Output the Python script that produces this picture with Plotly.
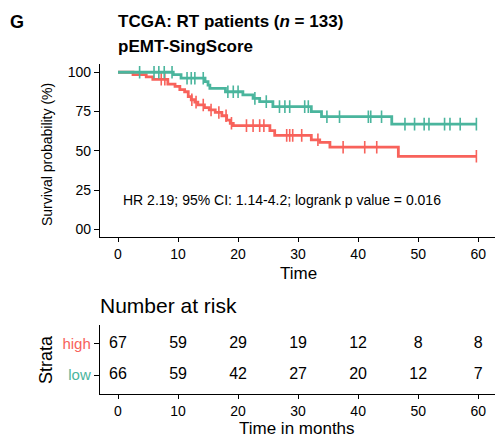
import numpy as np
import plotly.graph_objects as go

# ---------------- data ----------------
strata = ["high", "low"]
# Kaplan-Meier step points (time in months, survival %)
high_t = [0, 2.5, 4.7, 5.8, 8.3, 9.5, 10.3, 11.1, 11.7, 12.2, 12.8, 13.3, 14.4, 15.2, 16.2, 17.3, 18.1, 18.7, 19.2, 25.3, 26.1, 32.2, 33.6, 35.3, 46.7, 59.8]
high_s = [100, 98.5, 97.0, 95.5, 92.5, 91.0, 89.0, 87.6, 84.5, 82.5, 81.0, 79.2, 77.5, 76.0, 74.4, 72.3, 69.5, 67.5, 66.0, 62.8, 59.8, 57.0, 55.4, 52.3, 46.5, 46.5]
high_cens = [7.2, 7.8, 12.3, 13.0, 14.2, 15.5, 16.8, 18.0, 18.9, 21.4, 22.5, 23.6, 24.3, 28.1, 28.6, 29.1, 30.6, 33.3, 37.5, 41.1, 43.1, 59.7]

low_t = [0, 9.2, 10.5, 14.5, 15.0, 15.3, 17.9, 20.8, 22.5, 23.6, 25.8, 32.2, 33.9, 45.6, 59.8]
low_s = [100, 98.5, 96.2, 94.0, 91.8, 89.8, 87.6, 85.6, 83.4, 81.3, 78.1, 74.9, 71.7, 67.0, 67.0]
low_cens = [3.6, 6.0, 6.8, 7.7, 9.0, 11.5, 12.2, 12.8, 14.2, 18.3, 19.2, 20.0, 22.8, 24.7, 26.9, 27.8, 28.6,
            31.1, 31.7, 34.8, 36.9, 41.7, 42.1, 43.9, 47.8, 49.4, 51.0, 51.8, 54.4, 55.3, 57.0, 59.7]

risk_times = [0, 10, 20, 30, 40, 50, 60]
risk_high = [67, 59, 29, 19, 12, 8, 8]
risk_low = [66, 59, 42, 27, 20, 12, 7]

y_ticks = [0, 25, 50, 75, 100]
y_ticklabels = ["00", "25", "50", "75", "100"]
x_ticks = [0, 10, 20, 30, 40, 50, 60]

RED = "#F8625B"
GREEN = "#4AB59D"
FONT = "Liberation Sans"
W, H = 495, 437


def step_at(ts, ss, q):
    ts = np.asarray(ts); ss = np.asarray(ss)
    idx = np.searchsorted(ts, q, side="right") - 1
    return ss[idx]


def px(xp):
    return xp / W


def py(yp):
    return 1 - yp / H


fig = go.Figure()

for t, s, c, col in [(high_t, high_s, high_cens, RED), (low_t, low_s, low_cens, GREEN)]:
    fig.add_trace(go.Scatter(x=t, y=s, mode="lines", line=dict(color=col, width=2.8, shape="hv"),
                             xaxis="x", yaxis="y", showlegend=False, hoverinfo="skip"))
    fig.add_trace(go.Scatter(x=c, y=step_at(t, s, c), mode="markers",
                             marker=dict(symbol="line-ns", size=9, line=dict(color=col, width=1.6)),
                             xaxis="x", yaxis="y", showlegend=False, hoverinfo="skip"))

# risk table
fig.add_trace(go.Scatter(x=risk_times, y=[2] * len(risk_times), mode="text",
                         text=[str(v) for v in risk_high], textfont=dict(size=16, color="black", family=FONT),
                         xaxis="x2", yaxis="y2", showlegend=False, hoverinfo="skip"))
fig.add_trace(go.Scatter(x=risk_times, y=[1] * len(risk_times), mode="text",
                         text=[str(v) for v in risk_low], textfont=dict(size=16, color="black", family=FONT),
                         xaxis="x2", yaxis="y2", showlegend=False, hoverinfo="skip"))

xdom = [px(100), 1.0]
axis_common = dict(showline=True, linecolor="black", linewidth=1.4, ticks="outside",
                   tickwidth=1.2, tickcolor="black", showgrid=False, zeroline=False, automargin=False)

fig.update_layout(
    width=W, height=H, margin=dict(l=0, r=0, t=0, b=0, autoexpand=False),
    paper_bgcolor="white", plot_bgcolor="white",
    font=dict(family=FONT, color="black"),
    xaxis=dict(domain=xdom, range=[-3, 62.8], tickvals=x_ticks, tickfont=dict(size=14), ticklen=4,
               anchor="y", **axis_common),
    yaxis=dict(domain=[py(237.2), py(64.4)], range=[-5, 105], tickvals=y_ticks, ticktext=y_ticklabels,
               tickfont=dict(size=14), ticklen=5, anchor="x", **axis_common),
    xaxis2=dict(domain=xdom, range=[-3, 62.8], tickvals=x_ticks, tickfont=dict(size=14), ticklen=4,
                anchor="y2", **axis_common),
    yaxis2=dict(domain=[py(394), py(325)], range=[0.4, 2.6], tickvals=[1, 2],
                ticktext=[f"<span style='color:{GREEN}'>low</span>", f"<span style='color:{RED}'>high</span>"],
                tickfont=dict(size=15), ticklen=5, anchor="x2", **axis_common),
)

ann = [
    dict(text="<b>G</b>", x=px(8), y=py(22), xanchor="left", yanchor="middle", font=dict(size=18)),
    dict(text="<b>TCGA: RT patients (<i>n</i> = 133)</b>", x=px(116), y=py(22), xanchor="left",
         yanchor="middle", font=dict(size=17)),
    dict(text="<b>pEMT-SingScore</b>", x=px(116), y=py(46), xanchor="left", yanchor="middle",
         font=dict(size=17)),
    dict(text="Survival probability (%)", x=px(47), y=py(155), textangle=-90, xanchor="center",
         yanchor="middle", font=dict(size=14)),
    dict(text="Time", x=px(298), y=py(273), xanchor="center", yanchor="middle", font=dict(size=17)),
    dict(text="HR 2.19; 95% CI: 1.14-4.2; logrank p value = 0.016", x=px(121), y=py(200),
         xanchor="left", yanchor="middle", font=dict(size=14)),
    dict(text="Number at risk", x=px(98), y=py(305), xanchor="left", yanchor="middle", font=dict(size=21)),
    dict(text="Strata", x=px(46), y=py(360), textangle=-90, xanchor="center", yanchor="middle",
         font=dict(size=18)),
    dict(text="Time in months", x=px(297), y=py(428), xanchor="center", yanchor="middle", font=dict(size=17)),
]
for a in ann:
    a.update(xref="paper", yref="paper", showarrow=False)
fig.update_layout(annotations=ann)

fig.write_html("out.html", config={"displayModeBar": False},
               post_script="document.body.style.margin='0px';")
